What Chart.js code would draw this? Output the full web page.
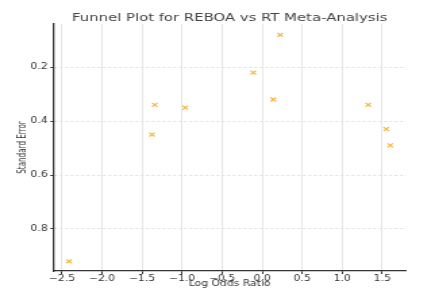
<!DOCTYPE html>
<html>
<head>
<meta charset="utf-8">
<script src="https://cdn.jsdelivr.net/npm/chart.js@4/dist/chart.umd.min.js"></script>
<style>
  body { margin: 0; background: #fff; overflow: hidden; }
  /* the reference picture is stretched sideways, so draw narrow and widen */
  .wrap { width: 322px; height: 302px; transform: scaleX(1.351); transform-origin: 0 0; }
  canvas { display: block; }
</style>
</head>
<body>
<div class="wrap">
<canvas id="myChart" width="322" height="302"></canvas>
</div>
<script>
// study estimates
const logOddsRatio = [-2.41, 0.225, -0.11, 0.14, -1.34, -0.96, -1.375, 1.325, 1.55, 1.6];
const standardError = [0.92, 0.08, 0.22, 0.32, 0.34, 0.35, 0.45, 0.34, 0.43, 0.49];
const xTicks = [-2.5, -2.0, -1.5, -1.0, -0.5, 0.0, 0.5, 1.0, 1.5];
const yTicks = [0.2, 0.4, 0.6, 0.8];

const points = logOddsRatio.map((x, i) => ({ x: x, y: standardError[i] }));

function fmt(v) {
    return (v < 0 ? '\u2212' : '') + Math.abs(v).toFixed(1);
}

var ctx = document.getElementById('myChart').getContext('2d');
var myChart = new Chart(ctx, {
    type: 'scatter',
    data: {
        datasets: [{
            data: points,
            pointStyle: 'crossRot',
            pointRadius: 2.8,
            borderColor: '#f4b63e',
            backgroundColor: '#f4b63e',
            borderWidth: 1.2
        }]
    },
    options: {
        responsive: false,
        animation: false,
        layout: { padding: { left: 0, right: 21.3, top: 0, bottom: 0 } },
        plugins: {
            legend: { display: false },
            tooltip: { enabled: false },
            title: {
                display: true,
                fullSize: false,
                text: 'Funnel Plot for REBOA vs RT Meta-Analysis',
                color: '#444',
                font: { family: 'DejaVu Sans', size: 11, weight: 'normal', lineHeight: 0.2 },
                padding: { top: 17.5, bottom: 4.3 }
            }
        },
        scales: {
            x: {
                type: 'linear',
                min: -2.61,
                max: 1.8,
                afterBuildTicks: s => { s.ticks = xTicks.map(v => ({ value: v })); },
                afterFit: s => { s.height = 31; },
                ticks: {
                    callback: v => fmt(v),
                    color: '#333',
                    font: { family: 'DejaVu Sans', size: 8 },
                    padding: 0,
                    maxRotation: 0
                },
                grid: { color: '#e6e6e6', lineWidth: 1, tickColor: '#333', tickLength: 3 },
                border: { color: '#333', width: 1.3 },
                title: {
                    display: true,
                    text: 'Log Odds Ratio',
                    color: '#333',
                    font: { family: 'DejaVu Sans', size: 8 },
                    padding: { top: 0, bottom: 13 }
                }
            },
            y: {
                type: 'linear',
                reverse: true,
                min: 0.04,
                max: 0.956,
                afterBuildTicks: s => { s.ticks = yTicks.map(v => ({ value: v })); },
                afterFit: s => { s.width = 39.3; },
                ticks: {
                    callback: v => v.toFixed(1),
                    color: '#333',
                    font: { family: 'DejaVu Sans', size: 8 },
                    padding: 2
                },
                grid: { color: '#e0e0e0', lineWidth: 1, tickColor: '#333', tickLength: 2 },
                border: { color: '#333', width: 1.3, dash: [2, 2] },
                title: {
                    display: true,
                    text: 'Standard Error',
                    color: '#333',
                    font: { family: "'Liberation Sans Narrow', 'DejaVu Sans Condensed', sans-serif", size: 8 },
                    padding: { top: 12.5, bottom: 0 }
                }
            }
        }
    }
});
</script>
</body>
</html>
